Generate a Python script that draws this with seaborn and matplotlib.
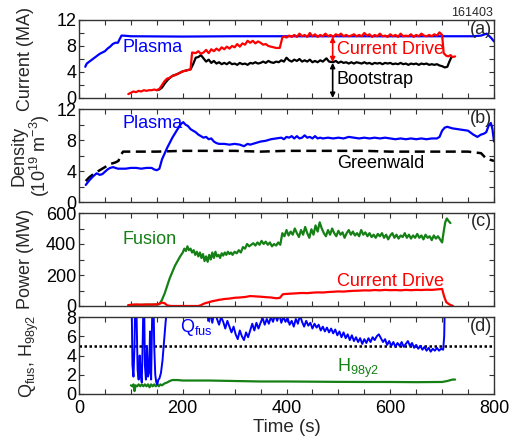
import numpy as np
import pandas as pd
import matplotlib
matplotlib.use("Agg")
import matplotlib.pyplot as plt
import seaborn as sns
from matplotlib.ticker import MultipleLocator

# ---------------- data ----------------
shot_number = "161403"

# (a) current, MA
ip_plasma = [(12, 4.8), (15, 5.3), (20, 5.6), (25, 5.9), (30, 6.2), (35, 6.5), (40, 6.8), (45, 7.0),
             (50, 7.2), (55, 7.6), (60, 7.9), (65, 8.3), (70, 8.5), (75, 8.5), (78, 9.0), (82, 9.6),
             (85, 9.6), (100, 9.5), (200, 9.45), (300, 9.5), (400, 9.5), (500, 9.5), (600, 9.5),
             (700, 9.5), (760, 9.5), (775, 9.6), (786, 9.9), (795, 9.2), (800, 8.7)]
i_current_drive = [(95, 0.6), (100, 0.8), (105, 1.0), (110, 0.9), (115, 1.1), (120, 1.0), (125, 1.2),
                   (130, 1.1), (135, 1.2), (140, 1.2), (145, 1.3), (150, 1.2), (155, 1.4), (160, 2.0),
                   (165, 2.6), (170, 3.0), (175, 3.1), (180, 3.4), (185, 3.5), (190, 3.7), (195, 3.9),
                   (200, 4.1), (205, 4.2), (210, 4.3), (215, 4.4), (218, 7.0), (225, 6.9), (230, 7.2),
                   (235, 6.8), (240, 7.0), (245, 7.4), (250, 6.9), (255, 7.5), (260, 7.2), (265, 7.6),
                   (270, 7.3), (275, 7.8), (280, 7.5), (285, 7.9), (290, 7.6), (295, 8.0), (300, 7.8),
                   (305, 8.3), (310, 7.9), (315, 8.4), (320, 8.2), (325, 8.8), (330, 8.5), (335, 8.8),
                   (340, 8.4), (345, 8.7), (350, 8.5), (355, 8.2), (360, 8.3), (365, 8.0), (370, 7.9),
                   (375, 7.8), (380, 7.7), (387, 7.7), (392, 9.3), (395, 9.5), (400, 9.3), (405, 9.6),
                   (410, 9.4), (415, 9.7), (420, 9.4), (425, 9.9), (430, 9.5), (435, 9.7), (440, 9.4),
                   (445, 10.0), (450, 9.5), (455, 9.8), (460, 9.4), (465, 9.7), (470, 9.5), (475, 9.9),
                   (480, 9.5), (485, 9.7), (490, 9.4), (495, 9.8), (500, 9.6), (505, 9.9), (510, 9.5),
                   (515, 9.7), (520, 9.5), (525, 9.6), (530, 9.8), (535, 9.5), (540, 9.7), (545, 9.5),
                   (550, 10.0), (555, 9.6), (560, 9.8), (565, 9.4), (570, 9.7), (575, 9.5), (580, 9.9),
                   (585, 9.5), (590, 9.6), (595, 9.4), (600, 9.8), (605, 9.5), (610, 9.7), (615, 9.4),
                   (620, 9.9), (625, 9.5), (630, 9.6), (635, 9.5), (640, 9.8), (645, 9.4), (650, 9.7),
                   (655, 9.5), (660, 9.9), (665, 9.6), (670, 9.5), (675, 9.7), (680, 9.5), (685, 9.8),
                   (690, 9.6), (695, 10.1), (700, 9.7), (703, 6.9), (708, 6.5), (712, 6.4), (716, 6.6),
                   (720, 6.3), (725, 6.4)]
i_bootstrap = [(150, 1.2), (155, 1.3), (160, 1.6), (165, 2.2), (170, 2.7), (175, 3.1), (180, 3.4),
               (190, 3.7), (200, 4.1), (210, 4.3), (215, 4.4), (220, 5.2), (225, 6.2), (230, 6.3),
               (235, 6.6), (240, 6.1), (245, 5.6), (250, 5.9), (255, 5.4), (260, 5.7), (265, 5.3),
               (270, 5.5), (275, 5.2), (280, 5.4), (285, 5.2), (290, 5.5), (295, 5.2), (300, 5.3),
               (305, 5.1), (310, 5.4), (315, 5.2), (320, 5.3), (325, 5.1), (330, 5.4), (335, 5.3),
               (340, 5.5), (345, 5.3), (350, 5.4), (355, 5.6), (360, 5.4), (365, 5.7), (370, 5.5),
               (375, 5.4), (380, 5.6), (385, 5.5), (390, 5.8), (395, 5.6), (400, 6.2), (405, 5.8),
               (410, 5.6), (415, 5.9), (420, 5.7), (425, 6.0), (430, 5.6), (435, 5.8), (440, 5.6),
               (445, 5.9), (450, 5.5), (455, 5.7), (460, 5.5), (465, 5.8), (470, 5.6), (477, 6.1),
               (482, 5.6), (490, 5.5), (495, 5.7), (500, 5.4), (505, 5.6), (510, 5.4), (515, 5.5),
               (520, 5.3), (525, 5.5), (530, 5.3), (535, 5.5), (540, 5.4), (545, 5.3), (550, 5.5),
               (555, 5.3), (560, 5.4), (565, 5.2), (570, 5.4), (575, 5.3), (580, 5.4), (585, 5.2),
               (590, 5.4), (595, 5.3), (600, 5.4), (605, 5.2), (610, 5.3), (615, 5.2), (620, 5.4),
               (625, 5.2), (630, 5.3), (635, 5.1), (640, 5.3), (645, 5.2), (650, 5.3), (655, 5.1),
               (660, 5.3), (665, 5.2), (670, 5.3), (675, 5.1), (680, 5.2), (685, 5.1), (690, 5.2),
               (695, 5.0), (700, 4.9), (705, 4.7), (710, 4.8), (714, 5.6), (718, 6.3)]

# (b) density, 1e19 m^-3
ne_plasma = [(13, 2.2), (20, 2.8), (27, 3.3), (34, 3.7), (40, 3.5), (45, 3.6), (50, 3.9), (55, 4.2),
             (60, 4.4), (66, 4.5), (70, 4.4), (75, 4.3), (80, 4.3), (90, 4.3), (100, 4.4), (110, 4.4),
             (120, 4.3), (130, 4.4), (140, 4.4), (145, 4.2), (150, 4.1), (155, 4.3), (160, 5.5),
             (170, 7.0), (180, 8.3), (190, 9.4), (197, 10.1), (201, 10.3), (205, 10.0), (210, 9.8),
             (215, 9.4), (220, 9.2), (225, 9.0), (230, 8.7), (235, 8.5), (240, 8.3), (245, 8.4),
             (250, 8.1), (255, 8.2), (260, 7.8), (265, 7.6), (270, 7.5), (280, 7.5), (290, 7.4),
             (300, 7.5), (310, 7.4), (318, 7.2), (325, 7.5), (330, 7.4), (340, 7.6), (350, 7.8),
             (360, 7.9), (370, 8.1), (380, 8.2), (390, 8.3), (395, 8.1), (400, 8.4), (405, 8.3),
             (410, 8.5), (415, 8.2), (420, 8.5), (425, 8.2), (430, 8.3), (435, 8.6), (440, 8.3),
             (445, 8.4), (450, 8.2), (455, 8.5), (460, 8.2), (465, 8.3), (470, 8.2), (480, 8.3),
             (490, 8.2), (500, 8.3), (510, 8.2), (520, 8.4), (530, 8.3), (540, 8.2), (550, 8.3),
             (560, 8.2), (570, 8.3), (580, 8.2), (590, 8.3), (600, 8.2), (610, 8.1), (620, 8.2),
             (630, 8.1), (640, 8.2), (650, 8.1), (660, 8.2), (670, 8.1), (680, 8.2), (690, 8.2),
             (695, 8.4), (700, 9.2), (705, 9.6), (710, 9.7), (720, 9.5), (730, 9.4), (740, 9.3),
             (750, 9.2), (760, 8.7), (768, 8.4), (775, 8.7), (780, 8.8), (785, 9.0), (790, 9.9),
             (794, 10.2), (797, 9.4), (800, 7.8)]
ne_greenwald = [(13, 2.7), (20, 3.2), (30, 3.7), (40, 4.1), (50, 4.5), (60, 4.9), (70, 5.1), (76, 5.3),
                (80, 6.0), (85, 6.5), (100, 6.5), (150, 6.5), (200, 6.6), (250, 6.6), (300, 6.6),
                (350, 6.5), (400, 6.6), (450, 6.6), (500, 6.6), (550, 6.6), (600, 6.5), (650, 6.5),
                (700, 6.5), (750, 6.5), (775, 6.3), (785, 5.6), (800, 5.3)]

# (c) power, MW
p_fusion = [(95, 5), (100, 6), (110, 7), (120, 8), (130, 8), (140, 9), (150, 10), (155, 12), (160, 40),
            (165, 80), (170, 130), (175, 180), (180, 220), (185, 260), (190, 290), (195, 320), (200, 345),
            (203, 370), (206, 355), (209, 385), (212, 360), (215, 370), (218, 345), (221, 360), (224, 330),
            (227, 350), (230, 320), (233, 345), (236, 310), (239, 335), (242, 290), (245, 320), (248, 285),
            (251, 330), (254, 300), (257, 345), (260, 310), (263, 350), (266, 320), (269, 330), (272, 310),
            (275, 340), (278, 325), (281, 345), (284, 330), (287, 350), (290, 335), (293, 345), (296, 330),
            (300, 350), (304, 340), (308, 360), (312, 345), (316, 380), (320, 370), (324, 400), (328, 385),
            (332, 395), (336, 405), (340, 390), (344, 410), (348, 395), (352, 420), (356, 400), (360, 415),
            (364, 395), (368, 410), (372, 385), (376, 400), (380, 390), (384, 410), (388, 395), (392, 470),
            (396, 450), (400, 490), (404, 455), (408, 480), (412, 460), (416, 500), (420, 470), (424, 445),
            (428, 490), (432, 460), (436, 510), (440, 470), (444, 440), (448, 495), (452, 460), (456, 520),
            (460, 480), (464, 540), (468, 500), (472, 470), (476, 450), (480, 490), (484, 460), (488, 500),
            (492, 470), (496, 450), (500, 485), (504, 460), (508, 475), (512, 440), (516, 470), (520, 490),
            (524, 460), (528, 480), (532, 455), (536, 470), (540, 450), (544, 490), (548, 460), (552, 475),
            (556, 450), (560, 470), (564, 445), (568, 460), (572, 440), (576, 465), (580, 450), (584, 470),
            (588, 440), (592, 460), (596, 430), (600, 455), (604, 470), (608, 440), (612, 460), (616, 435),
            (620, 455), (624, 445), (628, 470), (632, 440), (636, 460), (640, 435), (644, 455), (648, 440),
            (652, 465), (656, 440), (660, 455), (664, 430), (668, 460), (672, 440), (676, 450), (680, 425),
            (684, 455), (688, 435), (692, 450), (696, 430), (700, 410), (703, 480), (706, 540), (709, 565),
            (712, 550), (716, 535)]
p_current_drive = [(95, 5), (100, 8), (110, 10), (120, 8), (130, 10), (140, 9), (150, 10), (155, 15),
                   (160, 22), (165, 18), (170, 4), (175, 1), (180, 0), (200, 0), (230, 0), (235, 5),
                   (240, 14), (245, 20), (250, 24), (255, 29), (260, 33), (265, 36), (270, 40), (275, 42),
                   (280, 45), (290, 48), (300, 53), (310, 55), (320, 58), (330, 64), (340, 62), (350, 60),
                   (360, 57), (370, 55), (380, 50), (387, 52), (393, 76), (400, 78), (410, 80), (420, 82),
                   (430, 84), (440, 83), (450, 86), (460, 88), (470, 87), (480, 90), (490, 92), (500, 94),
                   (510, 93), (520, 96), (530, 98), (540, 99), (550, 101), (560, 100), (570, 103),
                   (580, 101), (590, 104), (600, 102), (610, 103), (620, 101), (630, 104), (640, 102),
                   (650, 104), (660, 103), (670, 105), (680, 104), (690, 107), (700, 110), (704, 60),
                   (708, 25), (714, 10), (721, 0)]

# (d) Q_fus and H98y2
q_fus = [(101, 12), (103, 3), (105, 1.8), (107, 5), (109, 12), (111, 8), (113, 2.5), (115, 1.5), (117, 4),
         (119, 2), (121, 1.2), (123, 6), (125, 12), (127, 3), (129, 1.5), (131, 5), (133, 1.8), (135, 2.2),
         (137, 6.5), (139, 1.5), (141, 8), (143, 12), (145, 5), (147, 2), (149, 1.2), (151, 1.0),
         (153, 1.5), (155, 1.6), (158, 2.2), (161, 3.5), (164, 5.5), (167, 7.5), (170, 9), (175, 14),
         (244, 14), (249, 7.6), (253, 8.3), (257, 7.4), (262, 9.0), (266, 7.8), (270, 7.2), (274, 8.0),
         (278, 7.5), (282, 6.8), (286, 7.6), (290, 7.0), (294, 6.4), (298, 7.0), (302, 6.2), (306, 5.7),
         (310, 6.6), (314, 6.0), (318, 5.6), (322, 6.4), (326, 5.9), (330, 6.6), (334, 7.3), (338, 6.6),
         (342, 7.4), (346, 6.8), (350, 7.4), (354, 7.9), (358, 7.2), (362, 7.8), (366, 7.3), (370, 8.0),
         (374, 7.5), (378, 8.2), (382, 7.6), (386, 8.3), (390, 7.4), (394, 8.0), (398, 7.5), (402, 7.9),
         (406, 7.2), (410, 7.6), (414, 7.0), (418, 7.8), (422, 7.3), (426, 8.2), (430, 7.5), (434, 7.0),
         (438, 7.6), (442, 7.1), (446, 7.4), (450, 6.8), (454, 7.3), (458, 6.9), (462, 7.2), (466, 6.6),
         (470, 7.0), (474, 6.5), (478, 6.9), (482, 6.4), (486, 6.8), (490, 6.3), (494, 6.7), (498, 6.1),
         (502, 6.5), (506, 5.9), (510, 6.4), (514, 5.8), (518, 6.2), (522, 5.6), (526, 6.1), (530, 5.5),
         (534, 5.9), (538, 5.4), (542, 5.8), (546, 5.2), (550, 5.7), (554, 5.3), (558, 5.8), (562, 5.4),
         (566, 5.9), (570, 5.6), (574, 6.0), (578, 6.2), (582, 5.8), (586, 5.4), (590, 5.7), (594, 5.1),
         (598, 5.5), (602, 5.0), (606, 5.4), (610, 4.9), (614, 5.3), (618, 5.0), (622, 5.4), (626, 4.9),
         (630, 5.2), (634, 5.5), (638, 5.0), (642, 5.3), (646, 4.8), (650, 5.1), (654, 4.7), (658, 5.0),
         (662, 4.6), (666, 4.9), (670, 4.5), (674, 4.8), (678, 4.4), (682, 4.7), (686, 4.5), (690, 4.8),
         (694, 4.5), (698, 4.7), (702, 4.6), (704, 6.0), (706, 12)]
h98y2 = [(100, 0.9), (103, 0.8), (105, 1.0), (107, 0.3), (109, 0.9), (112, 0.8), (115, 1.0), (118, 0.8),
         (121, 1.0), (124, 0.8), (127, 1.0), (130, 0.8), (133, 1.0), (136, 0.7), (139, 1.0), (142, 0.8),
         (145, 1.0), (148, 0.8), (151, 1.0), (154, 0.8), (157, 1.0), (160, 0.9), (165, 1.1), (170, 1.2),
         (175, 1.35), (180, 1.45), (190, 1.45), (200, 1.4), (250, 1.4), (300, 1.35), (350, 1.3),
         (400, 1.3), (450, 1.28), (500, 1.26), (550, 1.25), (600, 1.25), (650, 1.23), (700, 1.25),
         (710, 1.35), (720, 1.5), (725, 1.5)]
h_reference = [(0, 5.0), (800, 5.0)]

# ---------------- style ----------------
sns.set_style("ticks")
plt.rcParams["font.family"] = ["Liberation Sans", "DejaVu Sans"]
plt.rcParams["mathtext.fontset"] = "custom"
plt.rcParams["mathtext.rm"] = "Liberation Sans"
plt.rcParams["mathtext.it"] = "Liberation Sans:italic"
plt.rcParams["axes.linewidth"] = 1.0
plt.rcParams["axes.edgecolor"] = "#333333"

BLUE, RED, GREEN, BLACK = "#0000ff", "#ff0000", "#158015", "#000000"
FS = 13

W, H = 513, 437
fig = plt.figure(figsize=(W / 100, H / 100), dpi=100)


def add_panel(top, bottom):
    return fig.add_axes([79 / W, 1 - bottom / H, 415 / W, (bottom - top) / H])


def draw(ax, pairs, color, **kw):
    df = pd.DataFrame(pairs, columns=["t", "v"])
    sns.lineplot(data=df, x="t", y="v", ax=ax, color=color, estimator=None,
                 sort=False, lw=kw.pop("lw", 1.6), **kw)


axa = add_panel(20, 98)
axb = add_panel(109, 202)
axc = add_panel(213, 306)
axd = add_panel(317, 394)

# (a)
draw(axa, ip_plasma, BLUE)
draw(axa, i_bootstrap, BLACK)
draw(axa, i_current_drive, RED)
axa.annotate("", xy=(489, 9.45), xytext=(489, 5.5),
             arrowprops=dict(arrowstyle="<|-|>", color=RED, lw=1.2, mutation_scale=7, shrinkA=0, shrinkB=0))
axa.annotate("", xy=(489, 5.4), xytext=(489, 0.0),
             arrowprops=dict(arrowstyle="<|-|>", color=BLACK, lw=1.2, mutation_scale=7, shrinkA=0, shrinkB=0))
axa.text(83, 7.8, "Plasma", color=BLUE, fontsize=FS, va="center", ha="left")
axa.text(497, 7.4, "Current Drive", color=RED, fontsize=FS, va="center", ha="left")
axa.text(497, 2.8, "Bootstrap", color=BLACK, fontsize=FS, va="center", ha="left")
axa.set_ylim(0, 12)
axa.yaxis.set_major_locator(MultipleLocator(4))
axa.yaxis.set_minor_locator(MultipleLocator(2))

# (b)
draw(axb, ne_greenwald, BLACK, linestyle=(0, (4, 2.2)), lw=1.8)
draw(axb, ne_plasma, BLUE)
axb.text(83, 10.1, "Plasma", color=BLUE, fontsize=FS, va="center", ha="left")
axb.text(497, 5.0, "Greenwald", color=BLACK, fontsize=FS, va="center", ha="left")
axb.set_ylim(0, 12)
axb.yaxis.set_major_locator(MultipleLocator(4))
axb.yaxis.set_minor_locator(MultipleLocator(2))

# (c)
draw(axc, p_fusion, GREEN)
draw(axc, p_current_drive, RED)
axc.text(83, 426, "Fusion", color=GREEN, fontsize=FS, va="center", ha="left")
axc.text(497, 161, "Current Drive", color=RED, fontsize=FS, va="center", ha="left")
axc.set_ylim(0, 600)
axc.yaxis.set_major_locator(MultipleLocator(200))
axc.yaxis.set_minor_locator(MultipleLocator(100))

# (d)
draw(axd, h_reference, BLACK, linestyle=(0, (1, 1)), lw=1.8)
draw(axd, h98y2, GREEN)
draw(axd, q_fus, BLUE, lw=1.4)
axd.text(195, 6.9, r"$\mathregular{Q_{fus}}$", color=BLUE, fontsize=FS, va="center", ha="left")
axd.text(497, 2.7, r"$\mathregular{H_{98y2}}$", color=GREEN, fontsize=FS, va="center", ha="left")
axd.set_ylim(0, 8)
axd.yaxis.set_major_locator(MultipleLocator(2))

for ax, lab, ypos in [(axa, "(a)", 10.5), (axb, "(b)", 10.8), (axc, "(c)", 542), (axd, "(d)", 7.0)]:
    ax.set_xlim(0, 800)
    ax.xaxis.set_major_locator(MultipleLocator(200))
    ax.xaxis.set_minor_locator(MultipleLocator(50))
    ax.tick_params(which="both", direction="in", top=True, right=True, length=3.5, width=0.8,
                   labelsize=FS, pad=2, colors="#333333", labelcolor="black")
    ax.set_xlabel("")
    ax.set_ylabel("")
    ax.text(796, ypos, lab, fontsize=FS, ha="right", va="center")
    if ax is not axd:
        ax.tick_params(labelbottom=False)
    for s in ax.spines.values():
        s.set_visible(True)

axd.tick_params(axis="x", pad=4)

fig.text(493 / W, 1 - 19 / H, shot_number, fontsize=9, ha="right", va="bottom")


def ylab(xpx, ypx, txt, **kw):
    fig.text(xpx / W, 1 - ypx / H, txt, rotation=90, ha="center", va="center", fontsize=FS, **kw)


ylab(25, 59, "Current (MA)")
ylab(31, 156, "Density\n(10$^{19}$ m$^{-3}$)", linespacing=1.0)
ylab(26, 259, "Power (MW)")
ylab(29, 356, r"Q$_{\mathregular{fus}}$, H$_{\mathregular{98y2}}$")
fig.text(287 / W, 1 - 428 / H, "Time (s)", fontsize=13.5, ha="center", va="center")

fig.savefig("out.png", dpi=100)
